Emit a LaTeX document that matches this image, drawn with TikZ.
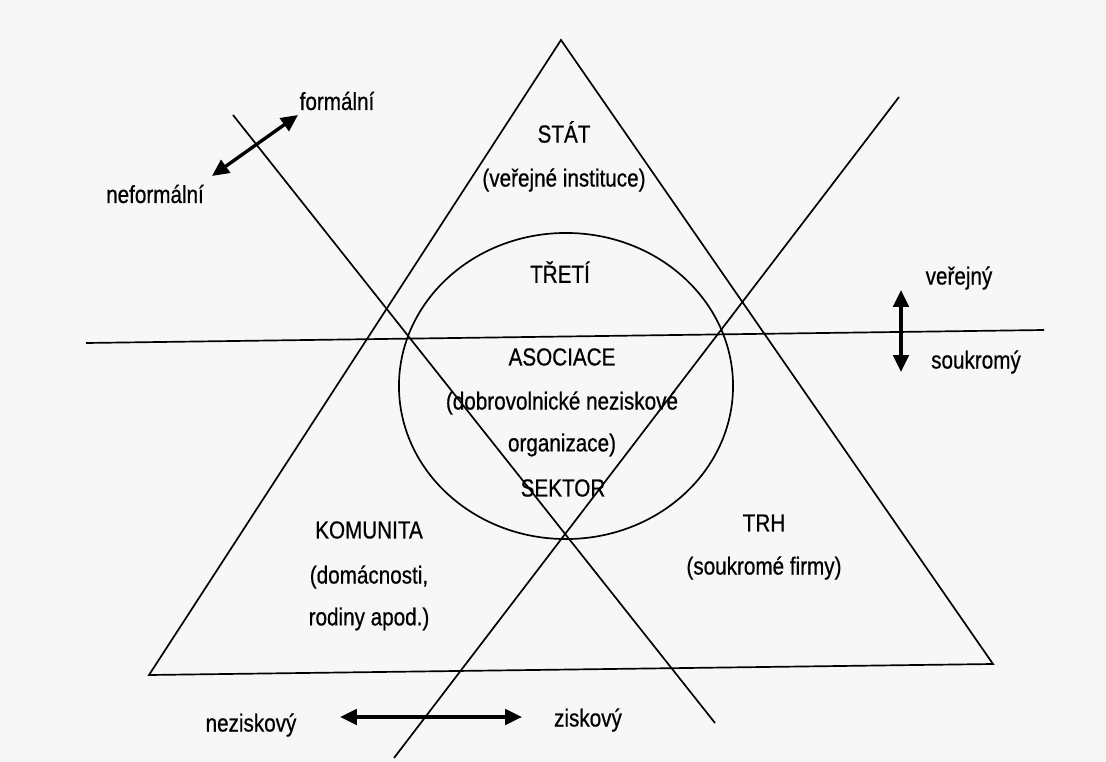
\documentclass[tikz,border=0pt]{standalone}
\usepackage{fontspec}
\setmainfont[FakeStretch=0.84,FakeBold=0.6]{Liberation Sans}
\usetikzlibrary{arrows.meta,shapes.geometric}
\definecolor{paper}{RGB}{247,247,247}

\begin{document}
\begin{tikzpicture}
  [x=0.025cm,y=-0.025cm,
   every node/.style={font=\fontsize{17.5}{21}\selectfont,inner sep=1pt},
   axis/.style={line width=1.2pt},
   dir/.style={line width=2.4pt,{Triangle[length=12pt,width=11pt]}-{Triangle[length=12pt,width=11pt]}}]
  \fill[paper] (0,0) rectangle (1106,762);
  \useasboundingbox (0,0) rectangle (1106,762);

  % triangle, lines and circle
  \coordinate (top) at (561,40);
  \coordinate (bl) at (149,675);
  \coordinate (br) at (993,664);
  \coordinate (h1) at (86,343);
  \coordinate (h2) at (1044,330);
  \coordinate (d1) at (233,115);
  \coordinate (d2) at (715,723);
  \coordinate (a1) at (899,97);
  \coordinate (a2) at (394,758);
  \draw[axis] (top) -- (bl) -- (br) -- cycle;
  \foreach \from/\to in {h1/h2,d1/d2,a1/a2}
    \draw[axis] (\from) -- (\to);
  \node[ellipse,draw,line width=1.2pt,inner sep=0pt,minimum width=8.35cm,minimum height=7.65cm] (sector) at (566,386) {};

  % sector texts
  \node (stat) at (564,132) {STÁT};
  \node (statx) at (564,180) {(veřejné instituce)};
  \node (treti) at (560,272) {TŘETÍ};
  \node (asoc) at (562,357) {ASOCIACE};
  \node (asocx) at (562,403) {(dobrovolnické neziskové};
  \node (asocy) at (562,445) {organizace)};
  \node (sekt) at (563,488) {SEKTOR};
  \node (kom) at (369,530) {KOMUNITA};
  \node (komx) at (369,577) {(domácnosti,};
  \node (komy) at (369,619) {rodiny apod.)};
  \node (trh) at (764,523) {TRH};
  \node (trhx) at (764,568) {(soukromé firmy)};

  % dimensions
  \node (form) at (337,101) {formální};
  \node (neform) at (155,194) {neformální};
  \node (verej) at (959,278) {veřejný};
  \node (soukr) at (976,362) {soukromý};
  \node (nezisk) at (251,725) {neziskový};
  \node (zisk) at (588,720) {ziskový};
  \coordinate (f1) at (212,176);
  \coordinate (f2) at (298,115);
  \coordinate (v1) at (901,290);
  \coordinate (v2) at (901,372);
  \coordinate (z1) at (340,717);
  \coordinate (z2) at (522,717);
  \foreach \from/\to in {f1/f2,v1/v2,z1/z2}
    \draw[dir] (\from) -- (\to);

\end{tikzpicture}
\end{document}
